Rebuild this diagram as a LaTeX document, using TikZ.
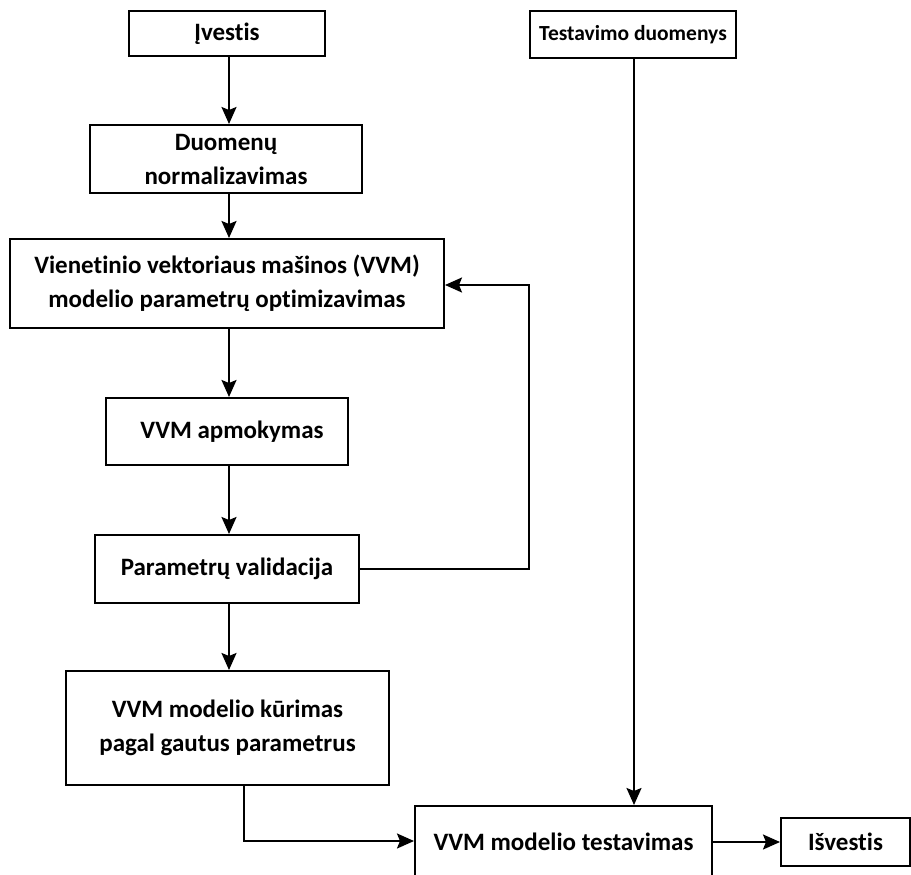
\documentclass[tikz,border=0pt]{standalone}
\usepackage{fontspec}
\setmainfont{Carlito}[Ligatures={NoCommon}]
\usetikzlibrary{arrows.meta}
\begin{document}
\begin{tikzpicture}[x=1pt,y=-1pt,
  box/.style={draw, line width=2pt, fill=white, align=center, inner sep=0pt,
    font=\fontsize{25}{34}\selectfont\bfseries},
  link/.style={line width=2pt, -{Stealth[length=17pt,width=15pt,inset=3pt]}}]
\useasboundingbox (0,0) rectangle (911,875);
\fill[white] (0,0) rectangle (911,875);

% process boxes (centre, size)
\node[box, minimum width=196pt, minimum height=45pt] (in) at (227,33.5) {Įvestis};
\node[box, minimum width=206pt, minimum height=47pt, font=\fontsize{21.5}{24}\selectfont\bfseries] (test) at (633,34.5) {Testavimo duomenys};
\node[box, minimum width=272pt, minimum height=68pt] (norm) at (226,159) {Duomenų\\normalizavimas};
\node[box, minimum width=434pt, minimum height=89pt] (opt) at (227,283.5) {Vienetinio vektoriaus mašinos (VVM)\\modelio parametrų optimizavimas};
\node[box, minimum width=242pt, minimum height=67pt] (train) at (227,431.5) {\hspace*{10pt}VVM apmokymas};
\node[box, minimum width=264pt, minimum height=68pt] (valid) at (227,569) {Parametrų validacija};
\node[box, minimum width=323pt, minimum height=114pt] (build) at (227.5,728) {VVM modelio kūrimas\\pagal gautus parametrus};
\node[box, minimum width=297pt, minimum height=72pt] (eval) at (563.5,842) {VVM modelio testavimas};
\node[box, minimum width=129pt, minimum height=48pt] (out) at (845.5,842) {Išvestis};

% main flow
\draw[link] (in.south -| 229,0) -- (norm.north -| 229,0);
\draw[link] (norm.south -| 229,0) -- (opt.north -| 229,0);
\draw[link] (opt.south -| 229,0) -- (train.north -| 229,0);
\draw[link] (train.south -| 229,0) -- (valid.north -| 229,0);
\draw[link] (valid.south -| 229,0) -- (build.north -| 229,0);

% feedback loop from validation back to optimisation
\coordinate (loopr) at (529,285);
\draw[link] (valid.east) -- (valid.east -| loopr) -- (loopr) -- (loopr -| opt.east);

% test data straight into evaluation
\draw[link] (test.south -| 634,0) -- (eval.north -| 634,0);

% built model into evaluation, evaluation to output
\coordinate (bend) at (244,841);
\draw[link] (build.south -| bend) -- (bend) -- (bend -| eval.west);
\draw[link] (eval.east |- out.west) -- (out.west);
\end{tikzpicture}
\end{document}
